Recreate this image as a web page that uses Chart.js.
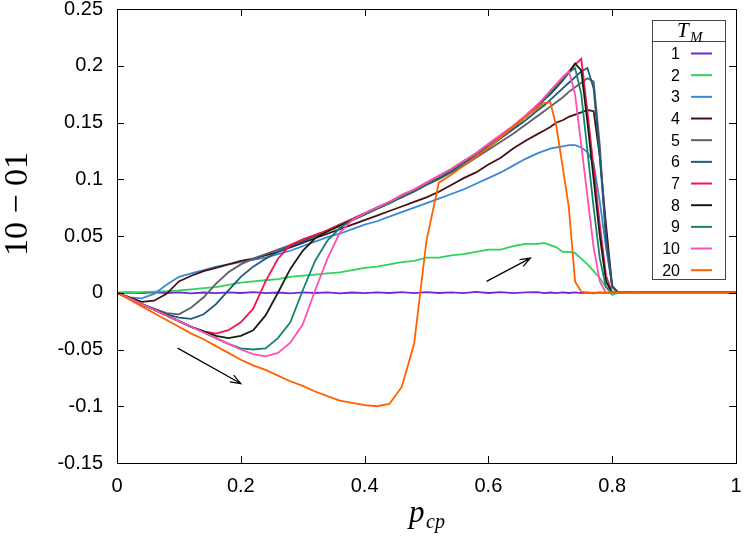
<!DOCTYPE html>
<html>
<head>
<meta charset="utf-8">
<script src="https://cdn.jsdelivr.net/npm/chart.js@4.4.0/dist/chart.umd.min.js"></script>
<style>
  html, body { margin: 0; padding: 0; background: #fff; }
</style>
</head>
<body>
<canvas id="grafico" width="747" height="536"></canvas>
<script>
// asse x (p_cp): passo 0.02, piu fitto vicino al crollo
let pcp = [0, 0.02, 0.04, 0.06, 0.08, 0.10, 0.12, 0.14, 0.16, 0.18, 0.20, 0.22, 0.24, 0.26, 0.28, 0.30, 0.32, 0.34,
  0.36, 0.38, 0.40, 0.42, 0.44, 0.46, 0.48, 0.50, 0.52, 0.54, 0.56, 0.58, 0.60, 0.62, 0.64, 0.66, 0.68,
  0.69, 0.70, 0.71, 0.72, 0.73, 0.74, 0.75, 0.76, 0.77, 0.78, 0.79, 0.80, 0.81, 0.82,
  0.84, 0.86, 0.88, 0.90, 0.92, 0.94, 0.96, 0.98, 1.00];

let etichette = ["1", "2", "3", "4", "5", "6", "7", "8", "9", "10", "20"];

let tm1 = [0, 0.0002, -0.0003, 0.0004, -0.0002, 0.0003, -0.0005, 0.0002, -0.0004, 0.0003, -0.0002, 0.0005, -0.0003, 0.0002, -0.0006, 0.0003, -0.0002,
  0.0004, -0.0005, 0.0002, -0.0004, 0.0003, -0.0002, 0.0005, -0.0003, 0.0006, -0.0002, 0.0004, -0.0003, 0.0008, -0.0002, 0.0005, -0.0004, 0.0003, 0.0006,
  -0.0003, 0.0002, -0.0004, 0.0003, -0.0002, 0.0004, -0.0003, 0.0002, -0.0005, 0.0004, -0.0002, 0.0003, -0.0004, 0.0005,
  -0.0003, 0.0004, 0, 0, 0, 0, 0, 0, 0];
let tm2 = [0, 0.0002, 0.0005, 0.001, 0.0015, 0.002, 0.003, 0.004, 0.005, 0.007, 0.009, 0.010, 0.011, 0.012, 0.014, 0.015, 0.016,
  0.017, 0.018, 0.020, 0.022, 0.023, 0.025, 0.027, 0.028, 0.031, 0.031, 0.033, 0.034, 0.036, 0.038, 0.038, 0.041, 0.043, 0.043,
  0.044, 0.042, 0.040, 0.036, 0.036, 0.035, 0.030, 0.025, 0.019, 0.013, 0.005, -0.002, 0, 0,
  0, 0, 0, 0, 0, 0, 0, 0, 0];
let tm3 = [0, -0.004, -0.005, -0.001, 0.007, 0.014, 0.017, 0.020, 0.023, 0.025, 0.027, 0.029, 0.031, 0.034, 0.037, 0.041, 0.045,
  0.049, 0.052, 0.056, 0.060, 0.063, 0.067, 0.071, 0.075, 0.079, 0.083, 0.087, 0.091, 0.096, 0.101, 0.106, 0.112, 0.118, 0.123,
  0.125, 0.127, 0.128, 0.129, 0.130, 0.130, 0.128, 0.124, 0.114, 0.080, 0.040, 0.006, 0, 0,
  0, 0, 0, 0, 0, 0, 0, 0, 0];
let tm4 = [0, -0.004, -0.008, -0.007, -0.001, 0.010, 0.015, 0.019, 0.022, 0.025, 0.028, 0.030, 0.033, 0.036, 0.040, 0.044, 0.048,
  0.052, 0.056, 0.060, 0.064, 0.068, 0.072, 0.076, 0.080, 0.084, 0.089, 0.095, 0.101, 0.106, 0.113, 0.119, 0.127, 0.134, 0.140,
  0.143, 0.146, 0.150, 0.152, 0.155, 0.157, 0.159, 0.161, 0.160, 0.120, 0.060, 0.005, 0, 0,
  0, 0, 0, 0, 0, 0, 0, 0, 0];
let tm5 = [0, -0.005, -0.010, -0.014, -0.018, -0.019, -0.013, -0.004, 0.008, 0.018, 0.025, 0.030, 0.034, 0.038, 0.042, 0.046, 0.050,
  0.054, 0.059, 0.064, 0.069, 0.074, 0.079, 0.084, 0.089, 0.095, 0.100, 0.106, 0.112, 0.119, 0.126, 0.133, 0.140, 0.148, 0.156,
  0.160, 0.164, 0.168, 0.172, 0.177, 0.181, 0.185, 0.189, 0.186, 0.130, 0.045, 0.005, 0, 0,
  0, 0, 0, 0, 0, 0, 0, 0, 0];
let tm6 = [0, -0.005, -0.010, -0.015, -0.019, -0.022, -0.023, -0.019, -0.010, 0.002, 0.014, 0.023, 0.030, 0.036, 0.041, 0.045, 0.050,
  0.055, 0.060, 0.065, 0.070, 0.075, 0.080, 0.085, 0.090, 0.096, 0.101, 0.107, 0.114, 0.121, 0.128, 0.136, 0.144, 0.152, 0.161,
  0.165, 0.170, 0.175, 0.180, 0.185, 0.190, 0.195, 0.198, 0.180, 0.120, 0.050, 0.006, 0, 0,
  0, 0, 0, 0, 0, 0, 0, 0, 0];
let tm7 = [0, -0.005, -0.010, -0.015, -0.020, -0.025, -0.030, -0.034, -0.036, -0.033, -0.026, -0.014, 0.010, 0.030, 0.042, 0.047, 0.051,
  0.055, 0.060, 0.065, 0.070, 0.075, 0.080, 0.086, 0.091, 0.097, 0.103, 0.109, 0.116, 0.123, 0.131, 0.139, 0.147, 0.156, 0.166,
  0.171, 0.177, 0.183, 0.189, 0.195, 0.201, 0.206, 0.160, 0.110, 0.060, 0.015, 0, 0, 0,
  0, 0, 0, 0, 0, 0, 0, 0, 0];
let tm8 = [0, -0.005, -0.010, -0.015, -0.020, -0.025, -0.030, -0.034, -0.038, -0.040, -0.038, -0.033, -0.020, 0.000, 0.021, 0.037, 0.048,
  0.054, 0.059, 0.064, 0.069, 0.074, 0.079, 0.085, 0.090, 0.096, 0.102, 0.108, 0.115, 0.122, 0.130, 0.138, 0.146, 0.155, 0.165,
  0.170, 0.175, 0.181, 0.187, 0.194, 0.202, 0.196, 0.150, 0.100, 0.050, 0.010, 0, 0, 0,
  0, 0, 0, 0, 0, 0, 0, 0, 0];
let tm9 = [0, -0.005, -0.010, -0.015, -0.020, -0.025, -0.030, -0.035, -0.040, -0.045, -0.049, -0.050, -0.049, -0.040, -0.026, 0.002, 0.028,
  0.046, 0.057, 0.064, 0.069, 0.074, 0.079, 0.085, 0.090, 0.096, 0.102, 0.108, 0.115, 0.122, 0.130, 0.138, 0.146, 0.155, 0.165,
  0.170, 0.176, 0.182, 0.188, 0.194, 0.198, 0.175, 0.125, 0.075, 0.030, 0.005, 0, 0, 0,
  0, 0, 0, 0, 0, 0, 0, 0, 0];
let tm10 = [0, -0.005, -0.010, -0.015, -0.020, -0.025, -0.030, -0.035, -0.040, -0.045, -0.050, -0.054, -0.056, -0.053, -0.044, -0.028, 0.002,
  0.030, 0.053, 0.064, 0.070, 0.075, 0.080, 0.086, 0.091, 0.097, 0.103, 0.109, 0.116, 0.123, 0.131, 0.139, 0.147, 0.156, 0.166,
  0.172, 0.178, 0.184, 0.190, 0.195, 0.175, 0.130, 0.085, 0.040, 0.010, 0, 0, 0, 0,
  0, 0, 0, 0, 0, 0, 0, 0, 0];
let tm20 = [0, -0.006, -0.012, -0.018, -0.024, -0.030, -0.036, -0.041, -0.047, -0.053, -0.059, -0.064, -0.068, -0.073, -0.078, -0.082, -0.087,
  -0.091, -0.095, -0.097, -0.099, -0.100, -0.098, -0.083, -0.045, 0.046, 0.097, 0.104, 0.112, 0.120, 0.128, 0.137, 0.146, 0.155, 0.163,
  0.167, 0.168, 0.146, 0.111, 0.075, 0.010, 0.001, 0, 0, 0, 0, 0, 0, 0,
  0, 0, 0, 0, 0, 0, 0, 0, 0];

let serie = [tm1, tm2, tm3, tm4, tm5, tm6, tm7, tm8, tm9, tm10, tm20];

let colori = ['#7128d2', '#2fd25c', '#3a88d8', '#4a1010', '#5e5e66', '#1b5a78',
  '#f5144c', '#122212', '#17806f', '#ff4fb4', '#ff6000'];

let tickX = [0, 0.2, 0.4, 0.6, 0.8, 1];
let tickY = [-0.15, -0.1, -0.05, 0, 0.05, 0.1, 0.15, 0.2, 0.25];

// frecce: [x0, y0, x1, y1] in coordinate dei dati
let frecce = [[0.098, -0.0488, 0.200, -0.080], [0.597, 0.010, 0.668, 0.0305]];

function formatta(v) {
  let r = Math.round(v * 100) / 100;
  return r === 0 ? '0' : String(r);
}

let datasets = serie.map((s, i) => ({
  label: etichette[i],
  data: pcp.map((x, j) => ({ x: x, y: s[j] })),
  borderColor: colori[i],
  backgroundColor: colori[i],
  borderWidth: 1.8,
  pointRadius: 0,
  tension: 0,
  order: serie.length - 1 - i
}));

// niente spazio extra per le etichette che sporgono
function senzaPadding(s) {
  s.paddingLeft = 0; s.paddingRight = 0; s.paddingTop = 0; s.paddingBottom = 0;
}

// disegna cornice, tacche, frecce, legenda e titoli degli assi
const extra = {
  id: 'extra',
  afterDraw(chart) {
    const ctx = chart.ctx;
    const a = chart.chartArea;
    const sx = chart.scales.x, sy = chart.scales.y;
    ctx.save();
    ctx.strokeStyle = '#000';
    ctx.lineWidth = 1;
    ctx.strokeRect(Math.round(a.left) + 0.5, Math.round(a.top) + 0.5,
      Math.round(a.right - a.left), Math.round(a.bottom - a.top));

    // tacche interne su tutti i lati
    ctx.beginPath();
    tickX.forEach(v => {
      const px = Math.round(sx.getPixelForValue(v)) + 0.5;
      ctx.moveTo(px, a.bottom); ctx.lineTo(px, a.bottom - 7);
      ctx.moveTo(px, a.top); ctx.lineTo(px, a.top + 7);
    });
    tickY.forEach(v => {
      const py = Math.round(sy.getPixelForValue(v)) + 0.5;
      ctx.moveTo(a.left, py); ctx.lineTo(a.left + 7, py);
      ctx.moveTo(a.right, py); ctx.lineTo(a.right - 7, py);
    });
    ctx.stroke();

    // frecce
    ctx.lineWidth = 1.2;
    frecce.forEach(f => {
      const x0 = sx.getPixelForValue(f[0]), y0 = sy.getPixelForValue(f[1]);
      const x1 = sx.getPixelForValue(f[2]), y1 = sy.getPixelForValue(f[3]);
      const ang = Math.atan2(y1 - y0, x1 - x0);
      ctx.beginPath();
      ctx.moveTo(x0, y0); ctx.lineTo(x1, y1);
      ctx.moveTo(x1 - 11 * Math.cos(ang - 0.35), y1 - 11 * Math.sin(ang - 0.35));
      ctx.lineTo(x1, y1);
      ctx.lineTo(x1 - 11 * Math.cos(ang + 0.35), y1 - 11 * Math.sin(ang + 0.35));
      ctx.stroke();
    });

    // legenda
    const lx0 = 652.5, lx1 = 725.5, ly0 = 20.5, lyh = 41.5, ly1 = 279.5;
    ctx.fillStyle = '#fff';
    ctx.fillRect(lx0, ly0, lx1 - lx0, ly1 - ly0);
    ctx.strokeStyle = '#444';
    ctx.lineWidth = 1;
    ctx.strokeRect(lx0, ly0, lx1 - lx0, ly1 - ly0);
    ctx.beginPath(); ctx.moveTo(lx0, lyh); ctx.lineTo(lx1, lyh); ctx.stroke();
    ctx.fillStyle = '#000';
    ctx.textBaseline = 'alphabetic';
    ctx.textAlign = 'left';
    ctx.font = 'italic 21px "Liberation Serif"';
    ctx.fillText('T', 677, 37);
    ctx.font = 'italic 15px "Liberation Serif"';
    ctx.fillText('M', 690, 42);
    ctx.font = '16px "Liberation Sans"';
    ctx.textAlign = 'right';
    ctx.textBaseline = 'middle';
    etichette.forEach((t, i) => {
      const y = 53.5 + i * 21.67;
      ctx.fillStyle = '#000';
      ctx.fillText(t, 680, y + 1);
      ctx.strokeStyle = colori[i];
      ctx.lineWidth = 2;
      ctx.beginPath(); ctx.moveTo(691, y); ctx.lineTo(712, y); ctx.stroke();
    });

    // titoli degli assi
    ctx.fillStyle = '#000';
    ctx.textAlign = 'left';
    ctx.textBaseline = 'alphabetic';
    ctx.font = 'italic 31px "Liberation Serif"';
    ctx.fillText('p', 409, 522);
    ctx.font = 'italic 20px "Liberation Serif"';
    ctx.fillText('cp', 426, 528);

    ctx.translate(27, 204);
    ctx.rotate(-Math.PI / 2);
    ctx.textAlign = 'center';
    ctx.font = '34px "Liberation Serif"';
    ctx.fillText('10 \u2212 01', 0, 0);
    ctx.restore();
  }
};

let chart = new Chart(document.getElementById('grafico').getContext('2d'), {
  type: 'line',
  data: { datasets: datasets },
  options: {
    responsive: false,
    animation: false,
    layout: { padding: { top: 9, right: 11, left: 0, bottom: 0 } },
    plugins: {
      legend: { display: false },
      tooltip: { enabled: false }
    },
    scales: {
      x: {
        type: 'linear',
        min: 0,
        max: 1,
        afterFit: s => { s.height = 73; senzaPadding(s); },
        afterBuildTicks: s => { s.ticks = tickX.map(v => ({ value: v })); },
        ticks: {
          callback: formatta,
          color: '#000',
          padding: 11,
          maxRotation: 0,
          font: { family: 'Liberation Sans', size: 20 }
        },
        grid: { display: false, drawTicks: false },
        border: { display: false }
      },
      y: {
        min: -0.15,
        max: 0.25,
        afterFit: s => { s.width = 117; senzaPadding(s); },
        afterBuildTicks: s => { s.ticks = tickY.map(v => ({ value: v })); },
        ticks: {
          callback: formatta,
          color: '#000',
          padding: 14,
          font: { family: 'Liberation Sans', size: 20 }
        },
        grid: { display: false, drawTicks: false },
        border: { display: false }
      }
    }
  },
  plugins: [extra]
});
</script>
</body>
</html>
